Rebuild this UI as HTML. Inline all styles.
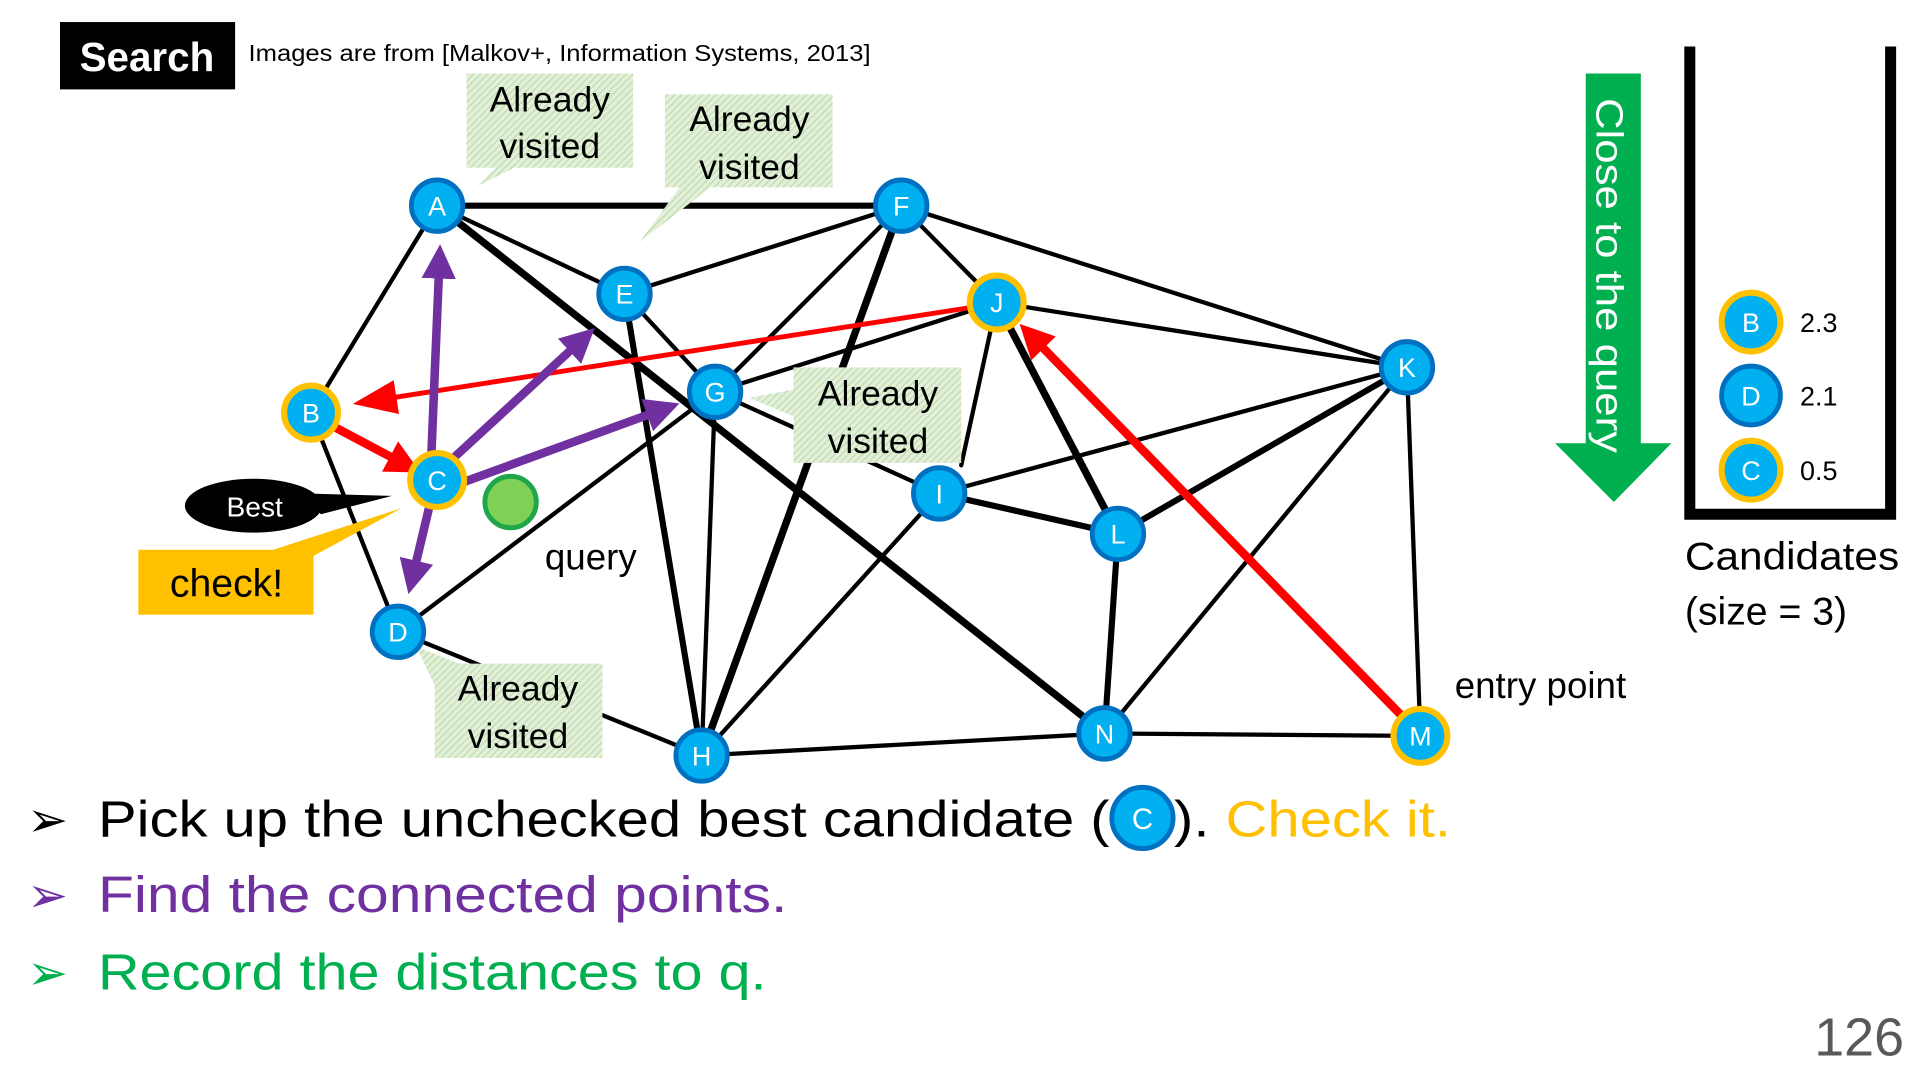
<!DOCTYPE html>
<html><head><meta charset="utf-8"><style>
html,body{margin:0;padding:0;background:#fff;width:1920px;height:1080px;overflow:hidden}
svg{display:block}
text{font-family:"Liberation Sans",sans-serif}
</style></head><body>
<svg width="1920" height="1080" viewBox="0 0 1568 882" xmlns="http://www.w3.org/2000/svg">
<defs>
<pattern id="h" width="4" height="4" patternUnits="userSpaceOnUse" patternTransform="rotate(45)">
<rect width="4" height="4" fill="#e2f0d9"/><line x1="0" y1="0" x2="0" y2="4" stroke="#b5d6a0" stroke-width="1.5"/></pattern>
<marker id="ra" markerWidth="4" markerHeight="4" refX="2.5" refY="2" orient="auto" markerUnits="strokeWidth"><path d="M0,0 L4,2 L0,4z" fill="#f00"/></marker>
<marker id="rb" markerWidth="9" markerHeight="7" refX="6" refY="3.5" orient="auto" markerUnits="strokeWidth"><path d="M0,0 L9,3.5 L0,7z" fill="#f00"/></marker>
<marker id="pa" markerWidth="4" markerHeight="4" refX="2.5" refY="2" orient="auto" markerUnits="strokeWidth"><path d="M0,0 L4,2 L0,4z" fill="#7030a0"/></marker>
</defs>
<rect x="49" y="18" width="143" height="55" fill="#000"/>
<text x="120" y="58" fill="#fff" font-size="33" font-weight="bold" text-anchor="middle">Search</text>
<text x="203" y="50" font-size="19" textLength="508" lengthAdjust="spacingAndGlyphs">Images are from [Malkov+, Information Systems, 2013]</text>

<!-- edges -->
<g stroke="#000" stroke-width="3.5" fill="none" stroke-linecap="round">
<line x1="357" y1="168" x2="736" y2="168" stroke-width="5"/>
<line x1="357" y1="168" x2="254" y2="337"/>
<line x1="357" y1="168" x2="510" y2="240"/>
<line x1="357" y1="168" x2="902" y2="599" stroke-width="6"/>
<line x1="736" y1="168" x2="510" y2="240"/>
<line x1="736" y1="168" x2="584" y2="320"/>
<line x1="736" y1="168" x2="573" y2="617" stroke-width="6"/>
<line x1="736" y1="168" x2="814" y2="247"/>
<line x1="736" y1="168" x2="1149" y2="300"/>
<line x1="510" y1="240" x2="584" y2="320"/>
<line x1="510" y1="240" x2="573" y2="617" stroke-width="5"/>
<line x1="584" y1="320" x2="814" y2="247"/>
<line x1="584" y1="320" x2="767" y2="403"/>
<line x1="584" y1="320" x2="573" y2="617"/>
<line x1="584" y1="320" x2="325" y2="516"/>
<line x1="814" y1="247" x2="1149" y2="300"/>
<line x1="814" y1="247" x2="785" y2="380"/>
<line x1="814" y1="247" x2="913" y2="436" stroke-width="6"/>
<line x1="1149" y1="300" x2="767" y2="403"/>
<line x1="1149" y1="300" x2="913" y2="436" stroke-width="5"/>
<line x1="1149" y1="300" x2="902" y2="599"/>
<line x1="1149" y1="300" x2="1160" y2="601"/>
<line x1="767" y1="403" x2="913" y2="436" stroke-width="5"/>
<line x1="767" y1="403" x2="573" y2="617"/>
<line x1="913" y1="436" x2="902" y2="599" stroke-width="5"/>
<line x1="902" y1="599" x2="573" y2="617"/>
<line x1="902" y1="599" x2="1160" y2="601"/>
<line x1="254" y1="337" x2="325" y2="516"/>
<line x1="325" y1="516" x2="573" y2="617"/>
</g>

<!-- callouts -->
<g fill="url(#h)">
<path d="M381,60 H517 V137 H420 L390,152 L405,137 H381Z"/>
<path d="M543,77 H680 V153 H580 L522,198 L555,153 H543Z"/>
<path d="M648,300 H785 V378 H648 V340 L612,325 L648,318Z"/>
<path d="M355,542 H492 V619 H355 V560 L340,528 L375,542Z"/>
</g>
<g font-size="29" text-anchor="middle" fill="#000">
<text x="449" y="91">Already</text><text x="449" y="129">visited</text>
<text x="612" y="107">Already</text><text x="612" y="146">visited</text>
<text x="717" y="331">Already</text><text x="717" y="370">visited</text>
<text x="423" y="572">Already</text><text x="423" y="611">visited</text>
</g>

<!-- red arrows -->
<g stroke="#f00" fill="none">
<line x1="800" y1="250" x2="300" y2="328" stroke-width="4" marker-end="url(#rb)"/>
<line x1="268" y1="346" x2="334" y2="381" stroke-width="7" marker-end="url(#ra)"/>
<line x1="1150" y1="590" x2="840" y2="272" stroke-width="7" marker-end="url(#ra)"/>
</g>
<g stroke="#7030a0" stroke-width="7" fill="none">
<line x1="352" y1="378" x2="359" y2="210" marker-end="url(#pa)"/>
<line x1="366" y1="378" x2="478" y2="275" marker-end="url(#pa)"/>
<line x1="375" y1="395" x2="545" y2="333" marker-end="url(#pa)"/>
<line x1="352" y1="408" x2="336" y2="475" marker-end="url(#pa)"/>
</g>

<!-- nodes -->
<g font-size="22" text-anchor="middle" fill="#fff">
<g stroke="#0070c0" stroke-width="4" fill="#00b0f0">
<circle cx="357" cy="168" r="21"/><circle cx="736" cy="168" r="21"/><circle cx="510" cy="240" r="21"/>
<circle cx="584" cy="320" r="21"/><circle cx="1149" cy="300" r="21"/><circle cx="767" cy="403" r="21"/>
<circle cx="913" cy="436" r="21"/><circle cx="325" cy="516" r="21"/><circle cx="902" cy="599" r="21"/>
<circle cx="573" cy="617" r="21"/><circle cx="1430" cy="323" r="24"/>
</g>
<g stroke="#ffc000" stroke-width="5" fill="#00b0f0">
<circle cx="814" cy="247" r="22"/><circle cx="254" cy="337" r="22"/><circle cx="357" cy="392" r="22"/>
<circle cx="1160" cy="601" r="22"/><circle cx="1430" cy="263" r="24"/><circle cx="1430" cy="384" r="24"/>
</g>
<text x="357" y="176">A</text><text x="736" y="176">F</text><text x="510" y="248">E</text>
<text x="584" y="328">G</text><text x="1149" y="308">K</text><text x="767" y="411">I</text>
<text x="913" y="444">L</text><text x="325" y="524">D</text><text x="902" y="607">N</text>
<text x="573" y="625">H</text><text x="814" y="255">J</text><text x="254" y="345">B</text>
<text x="357" y="400">C</text><text x="1160" y="609">M</text>
<text x="1430" y="271">B</text><text x="1430" y="331">D</text><text x="1430" y="392">C</text>
</g>
<circle cx="417" cy="410" r="21" fill="#7ed155" stroke="#1fa64a" stroke-width="4"/>
<text x="445" y="465" font-size="30">query</text>
<text x="1188" y="570" font-size="30">entry point</text>

<!-- Best & check -->
<path d="M250,403 L320,405 L262,420Z" fill="#000"/>
<ellipse cx="207" cy="413" rx="56" ry="22" fill="#000"/>
<text x="208" y="422" fill="#fff" font-size="23" text-anchor="middle">Best</text>
<path d="M220,450 L328,415 L245,460Z" fill="#ffc000"/>
<rect x="113" y="449" width="143" height="53" fill="#ffc000"/>
<text x="185" y="487" font-size="32" text-anchor="middle">check!</text>

<!-- right side -->
<path d="M1295,60 H1340 V362 H1365 L1318,410 L1270,362 H1295Z" fill="#00b050"/>
<text transform="translate(1304,80) rotate(90)" fill="#fff" font-size="31" textLength="290" lengthAdjust="spacingAndGlyphs">Close to the query</text>
<path d="M1380,38 V420 H1544 V38" stroke="#000" stroke-width="9" fill="none"/>
<g font-size="22"><text x="1470" y="271">2.3</text><text x="1470" y="331">2.1</text><text x="1470" y="392">0.5</text></g>
<text x="1376" y="465" font-size="32" textLength="175" lengthAdjust="spacingAndGlyphs">Candidates</text>
<text x="1376" y="510" font-size="32">(size = 3)</text>

<!-- bottom bullets -->
<g font-size="42">
<text x="22" y="683" font-size="40">➢</text>
<text x="80" y="683" textLength="1105" lengthAdjust="spacingAndGlyphs"><tspan>Pick up the unchecked best candidate (</tspan><tspan fill="#fff">__</tspan><tspan>). </tspan><tspan fill="#ffc000">Check it.</tspan></text>
<text x="22" y="745" font-size="40" fill="#7030a0">➢</text>
<text x="80" y="745" fill="#7030a0" textLength="563" lengthAdjust="spacingAndGlyphs">Find the connected points.</text>
<text x="22" y="808" font-size="40" fill="#00b050">➢</text>
<text x="80" y="808" fill="#00b050" textLength="546" lengthAdjust="spacingAndGlyphs">Record the distances to q.</text>
</g>
<circle cx="933" cy="668" r="25" fill="#00b0f0" stroke="#0070c0" stroke-width="4"/>
<text x="933" y="677" fill="#fff" font-size="24" text-anchor="middle">C</text>
<text x="1555" y="862" fill="#595959" font-size="44" text-anchor="end">126</text>
</svg>
</body></html>
